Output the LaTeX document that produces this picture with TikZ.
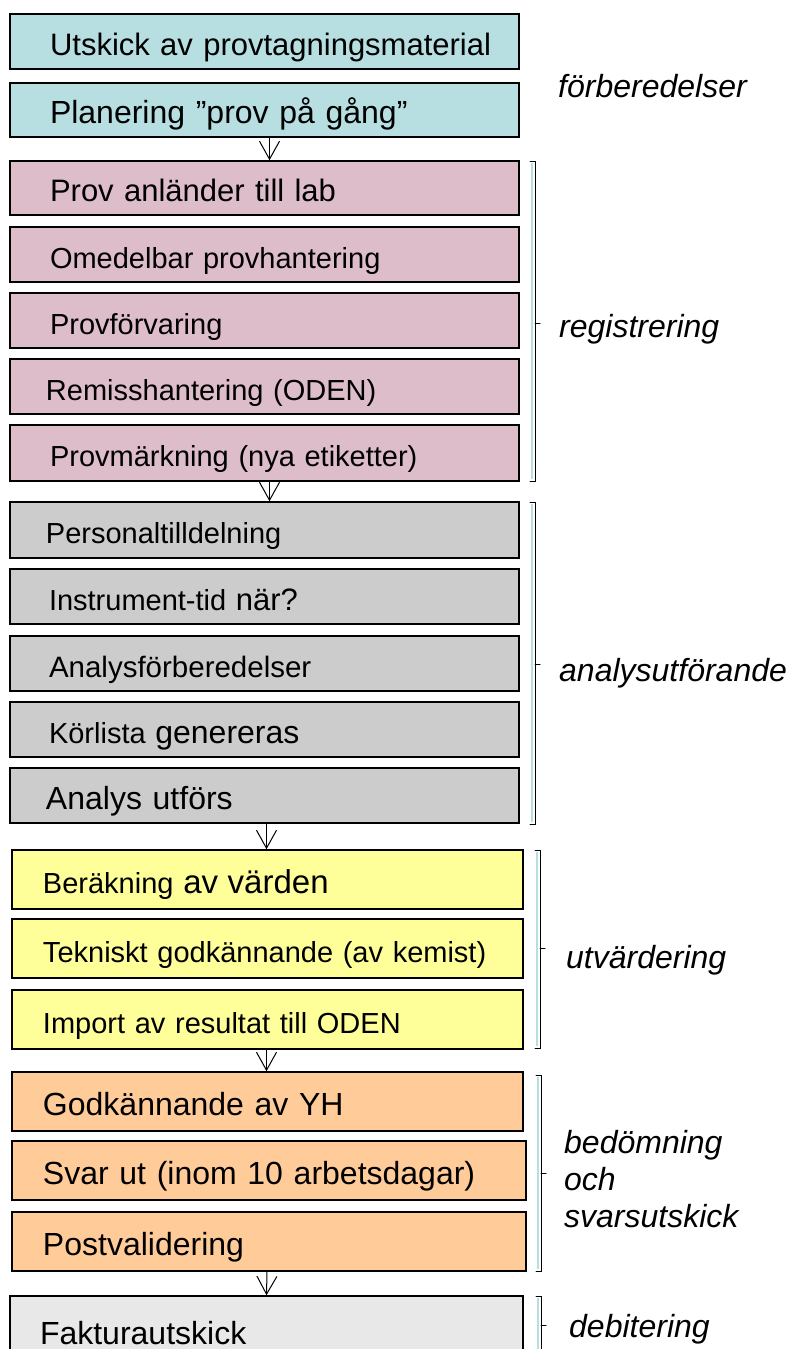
\documentclass[tikz,border=0pt]{standalone}
\usepackage{fontspec}
\setmainfont{Liberation Sans}
\usetikzlibrary{arrows.meta}

\definecolor{prepblue}{HTML}{B7DFE1}
\definecolor{regpink}{HTML}{DEBDCA}
\definecolor{anagray}{HTML}{CCCCCC}
\definecolor{evalyellow}{HTML}{FFFF99}
\definecolor{answorange}{HTML}{FFCC99}
\definecolor{billgray}{HTML}{E8E8E8}

\newcommand{\txtsize}[1]{\fontsize{#1pt}{#1pt}\selectfont}

\tikzset{
  stepbox/.style={draw, line width=1.5pt, minimum width=509pt, text width=501pt,
    inner xsep=4pt, inner ysep=0pt, align=left, font=\txtsize{29},
    text height=27pt, text depth=0pt},
  phase/.style={anchor=base west, inner sep=0pt, font=\itshape\txtsize{32}},
  flow/.style={-{Straight Barb[length=18pt,width=20pt]}, line width=1pt},
  brace/.style={line width=1pt, line cap=round},
  braceshade/.style={prepblue, line width=2.5pt}
}

\begin{document}
\begin{tikzpicture}[x=1pt,y=-1pt]
        \useasboundingbox (0,0) rectangle (790,1349);
        \fill[white] (0,0) rectangle (790,1349);

        % Preparations
        \node[stepbox, fill=prepblue, minimum height=55pt, font=\txtsize{31}] (utskick) at (264.5,41.5) {\hspace*{36pt}Utskick av provtagningsmaterial};
        \node[stepbox, fill=prepblue, minimum height=54pt, font=\txtsize{32}] (planering) at (264.5,110) {\hspace*{36pt}Planering ”prov på gång”};

        % Registration
        \node[stepbox, fill=regpink, minimum height=54pt, font=\txtsize{31}] (anlander) at (264.5,188) {\hspace*{36pt}Prov anländer till lab};
        \node[stepbox, fill=regpink, minimum height=55pt] (omedelbar) at (264.5,254.5) {\hspace*{36pt}Omedelbar provhantering};
        \node[stepbox, fill=regpink, minimum height=55pt] (forvaring) at (264.5,320.5) {\hspace*{36pt}Provförvaring};
        \node[stepbox, fill=regpink, minimum height=55pt] (remiss) at (264.5,386.5) {\hspace*{32pt}Remisshantering (ODEN)};
        \node[stepbox, fill=regpink, minimum height=56pt] (markning) at (264.5,453) {\hspace*{36pt}Provmärkning (nya etiketter)};

        % Analysis
        \node[stepbox, fill=anagray, minimum height=56pt] (personal) at (264.5,530) {\hspace*{32pt}Personaltilldelning};
        \node[stepbox, fill=anagray, minimum height=55pt] (instrument) at (264.5,596.5) {\hspace*{35pt}Instrument-tid {\txtsize{31}när?}};
        \node[stepbox, fill=anagray, minimum height=55pt, font=\txtsize{29.5}] (forbered) at (264.5,663.5) {\hspace*{35pt}Analysförberedelser};
        \node[stepbox, fill=anagray, minimum height=55pt] (korlista) at (264.5,729.5) {\hspace*{35pt}Körlista {\txtsize{32}genereras}};
        \node[stepbox, fill=anagray, minimum height=55pt, font=\txtsize{32}] (utfors) at (264.5,795.5) {\hspace*{32pt}Analys utförs};

        % Evaluation
        \node[stepbox, fill=evalyellow, minimum width=511pt, text width=503pt, minimum height=59pt] (berakning) at (267.5,879.5) {\hspace*{27pt}Beräkning {\txtsize{33}av värden}};
        \node[stepbox, fill=evalyellow, minimum width=511pt, text width=503pt, minimum height=59pt] (tekniskt) at (267.5,948.5) {\hspace*{27pt}Tekniskt godkännande (av kemist)};
        \node[stepbox, fill=evalyellow, minimum width=511pt, text width=503pt, minimum height=59pt] (import) at (267.5,1019.5) {\hspace*{27pt}Import av resultat till ODEN};

        % Approval and reply
        \node[stepbox, fill=answorange, minimum width=511pt, text width=503pt, minimum height=59pt, font=\txtsize{32}] (godkann) at (267.5,1101.5) {\hspace*{27pt}Godkännande av YH};
        \node[stepbox, fill=answorange, minimum width=514pt, text width=506pt, minimum height=59pt, font=\txtsize{32}] (svarut) at (269,1170.5) {\hspace*{27pt}Svar ut (inom 10 arbetsdagar)};
        \node[stepbox, fill=answorange, minimum width=514pt, text width=506pt, minimum height=59pt, font=\txtsize{32}] (postval) at (269,1241.5) {\hspace*{27pt}Postvalidering};

        % Billing
        \node[stepbox, fill=billgray, minimum width=513pt, text width=505pt, minimum height=70pt, font=\txtsize{32}] (faktura) at (266.5,1331) {\hspace*{26pt}Fakturautskick};

        % Arrows between the phases
        \draw[flow] ([xshift=5pt]planering.south) -- ([xshift=5pt]anlander.north);
        \draw[flow] ([xshift=5pt]markning.south) -- ([xshift=5pt]personal.north);
        \draw[flow] ([xshift=2pt]utfors.south) -- ([xshift=-1pt]berakning.north);
        \draw[flow] ([xshift=-1pt]import.south) -- ([xshift=-1pt]godkann.north);
        \draw[flow] ([xshift=-2pt]postval.south) -- ([xshift=0pt]faktura.north);

        % Brackets
        \draw[braceshade] (532,163) -- (532,479);
        \draw[brace] (530,161) -- (535,161) -- (535,481) -- (530,481);
        \draw[brace] (535,323) -- (540,323);

        \draw[braceshade] (532,504) -- (532,822);
        \draw[brace] (530,502) -- (535,502) -- (535,824) -- (530,824);
        \draw[brace] (535,664) -- (540,664);

        \draw[braceshade] (537,852) -- (537,1046);
        \draw[brace] (535,850) -- (540,850) -- (540,1048) -- (535,1048);
        \draw[brace] (540,948) -- (545,948);

        \draw[braceshade] (538,1077) -- (538,1269);
        \draw[brace] (536,1075) -- (541,1075) -- (541,1271) -- (536,1271);
        \draw[brace] (541,1173) -- (546,1173);

        \draw[braceshade] (538,1298) -- (538,1360);
        \draw[brace] (536,1296) -- (541,1296) -- (541,1362);
        \draw[brace] (541,1325) -- (546,1325);

        % Phase names
        \node[phase] (forberedelser) at (558,97) {förberedelser};
        \node[phase] (registrering) at (559,337) {registrering};
        \node[phase] (analysutforande) at (559,681) {analysutförande};
        \node[phase] (utvardering) at (566,968) {utvärdering};
        \node[phase] (bedomning) at (564,1153) {bedömning};
        \node[phase] (och) at (564,1190) {och};
        \node[phase] (svarsutskick) at (564,1227) {svarsutskick};
        \node[phase] (debitering) at (569,1337) {debitering};
      \end{tikzpicture}
\end{document}
